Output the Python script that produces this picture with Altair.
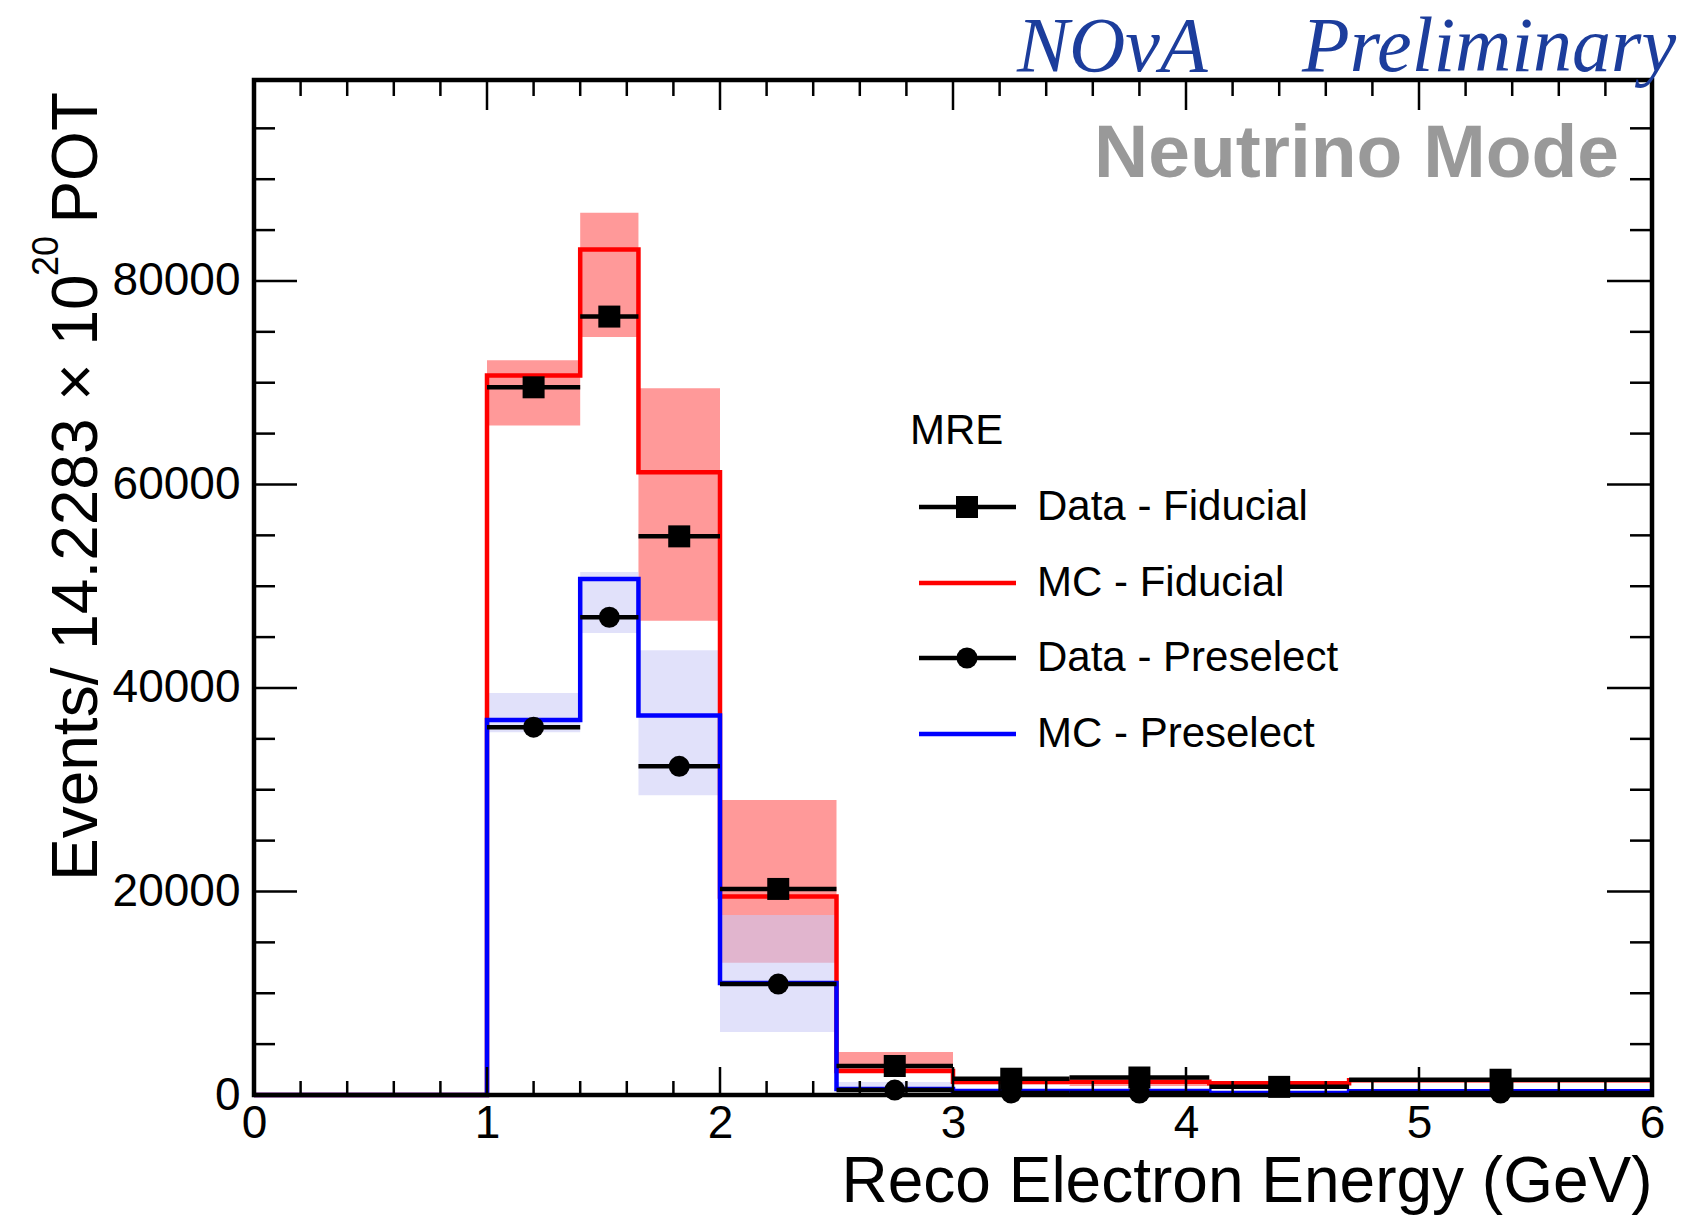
import altair as alt
import pandas as pd

# ---------------- data ----------------
edges = [0.0, 1.0, 1.4, 1.65, 2.0, 2.5, 3.0, 3.5, 4.1, 4.7, 6.0]

mc_fid    = [0, 70700, 83100, 61200, 19500, 2360, 1300, 1300, 1150, 1450]
mc_fid_lo = [0, 65800, 74500, 46600, 13000, 2250, 1000,  880,  950, 1350]
mc_fid_hi = [0, 72200, 86700, 69450, 29000, 4220, 1700, 1470, 1300, 1550]

mc_pre    = [0, 36850, 50700, 37300, 11000,  590,  400,  400,  200,  380]
mc_pre_lo = [0, 35660, 45400, 29450,  6200,  590,  250,  250,  100,  250]
mc_pre_hi = [0, 39500, 51400, 43700, 17700, 1280,  600,  550,  350,  500]

data_fid = [None, 69550, 76500, 54900, 20250, 2850, 1600, 1720,  800, 1500]
data_pre = [None, 36150, 46950, 32300, 10900,  480,  200,  200, None,  200]

x_major = [1, 2, 3, 4, 5]
x_minor = [round(0.2 * i, 1) for i in range(1, 30) if i % 5 != 0]
y_major = [20000, 40000, 60000, 80000]
y_minor = [5000 * i for i in range(1, 20) if i % 4 != 0]
x_labels = [0, 1, 2, 3, 4, 5, 6]
y_labels = [0, 20000, 40000, 60000, 80000]

legend_title = "MRE"
legend_labels = ["Data - Fiducial", "MC - Fiducial", "Data - Preselect", "MC - Preselect"]

# ---------------- tables ----------------
rows = []
for i in range(len(edges) - 1):
    rows.append(dict(lo=edges[i], hi=edges[i + 1], mid=(edges[i] + edges[i + 1]) / 2,
                     fid=mc_fid[i], fid_lo=mc_fid_lo[i], fid_hi=mc_fid_hi[i],
                     pre=mc_pre[i], pre_lo=mc_pre_lo[i], pre_hi=mc_pre_hi[i],
                     dfid=data_fid[i], dpre=data_pre[i]))
bins = pd.DataFrame(rows)
bands = bins[bins["lo"] >= 1.0]
dfid = bins[bins["dfid"].notna()]
dpre = bins[bins["dpre"].notna()]

step_fid = pd.DataFrame({"x": edges, "y": mc_fid + [mc_fid[-1]]})
step_pre = pd.DataFrame({"x": edges, "y": mc_pre + [mc_pre[-1]]})

W, H = 1398, 1015
FONT = "Liberation Sans"

xs = alt.Scale(domain=[0, 6], nice=False, zero=False)
ys = alt.Scale(domain=[0, 99750], nice=False, zero=False)

xaxis = alt.Axis(values=x_labels, format="d", grid=False, ticks=False, tickSize=0, domain=False,
                 labelFont=FONT, labelFontSize=46, labelColor="black", labelPadding=6,
                 labelFlush=False,
                 title="Reco Electron Energy (GeV)", titleFont=FONT, titleFontSize=64,
                 titleFontWeight="normal", titleColor="black", titleAnchor="end",
                 titleAlign="right", titleBaseline="alphabetic", titleX=W, titleY=106)
yaxis = alt.Axis(values=y_labels, format="d", grid=False, ticks=False, tickSize=0, domain=False,
                 labelFont=FONT, labelFontSize=46, labelColor="black", labelPadding=14,
                 labelFlush=False, title=None)


def X(f):
    return alt.X(f, type="quantitative", scale=xs, axis=xaxis)


def Y(f):
    return alt.Y(f, type="quantitative", scale=ys, axis=yaxis)


one = pd.DataFrame({"a": [0]})

layers = []

# systematic bands
layers.append(alt.Chart(bands).mark_rect(color="#ff9999").encode(
    x=X("lo"), x2="hi", y=Y("fid_lo"), y2="fid_hi"))
layers.append(alt.Chart(bands).mark_rect(color="#cacaf6", opacity=0.57).encode(
    x=X("lo"), x2="hi", y=Y("pre_lo"), y2="pre_hi"))

# MC step histograms
layers.append(alt.Chart(step_fid).mark_line(color="#ff0000", strokeWidth=4.5,
                                            interpolate="step-after").encode(x=X("x"), y=Y("y")))
layers.append(alt.Chart(step_pre).mark_line(color="#0000ff", strokeWidth=4.5,
                                            interpolate="step-after").encode(x=X("x"), y=Y("y")))

# data points
layers.append(alt.Chart(dfid).mark_rule(color="black", strokeWidth=4.5).encode(
    x=X("lo"), x2="hi", y=Y("dfid")))
layers.append(alt.Chart(dfid).mark_point(shape="square", filled=True, color="black",
                                         size=484, opacity=1).encode(x=X("mid"), y=Y("dfid")))
layers.append(alt.Chart(dpre).mark_rule(color="black", strokeWidth=4.5).encode(
    x=X("lo"), x2="hi", y=Y("dpre")))
layers.append(alt.Chart(dpre).mark_point(shape="circle", filled=True, color="black",
                                         size=441, opacity=1).encode(x=X("mid"), y=Y("dpre")))

# ticks (inside, on all four sides)
xmaj = pd.DataFrame({"v": x_major})
xmin = pd.DataFrame({"v": x_minor})
ymaj = pd.DataFrame({"v": y_major})
ymin = pd.DataFrame({"v": y_minor})
tk = dict(color="black", strokeWidth=2.5)
layers.append(alt.Chart(xmaj).mark_rule(**tk).encode(x=X("v"), y=alt.value(H), y2=alt.value(H - 28)))
layers.append(alt.Chart(xmin).mark_rule(**tk).encode(x=X("v"), y=alt.value(H), y2=alt.value(H - 14)))
layers.append(alt.Chart(xmaj).mark_rule(**tk).encode(x=X("v"), y=alt.value(0), y2=alt.value(30)))
layers.append(alt.Chart(xmin).mark_rule(**tk).encode(x=X("v"), y=alt.value(0), y2=alt.value(16)))
layers.append(alt.Chart(ymaj).mark_rule(**tk).encode(y=Y("v"), x=alt.value(0), x2=alt.value(43)))
layers.append(alt.Chart(ymin).mark_rule(**tk).encode(y=Y("v"), x=alt.value(0), x2=alt.value(21)))
layers.append(alt.Chart(ymaj).mark_rule(**tk).encode(y=Y("v"), x=alt.value(W), x2=alt.value(W - 45)))
layers.append(alt.Chart(ymin).mark_rule(**tk).encode(y=Y("v"), x=alt.value(W), x2=alt.value(W - 22)))

# frame
layers.append(alt.Chart(one).mark_rect(fillOpacity=0, stroke="black", strokeWidth=4.5).encode(
    x=alt.value(0), x2=alt.value(W), y=alt.value(0), y2=alt.value(H)))


def txt(text, x, y, size, **kw):
    d = pd.DataFrame({"t": [text]})
    return alt.Chart(d).mark_text(fontSize=size, **kw).encode(
        text="t:N", x=alt.value(x), y=alt.value(y))


# y-axis title (with superscript)
layers.append(txt("Events/ 14.2283 \u00d7 10", -157, 801, 64, font=FONT, angle=270, align="left",
                  baseline="alphabetic", color="black"))
layers.append(txt("20", -196, 196, 36, font=FONT, angle=270, align="left",
                  baseline="alphabetic", color="black"))
layers.append(txt("POT", -157, 12, 64, font=FONT, angle=270, align="right",
                  baseline="alphabetic", color="black"))

# top annotations
layers.append(txt("NO\u03bdA", 763, -9, 78, font="Liberation Serif", fontStyle="italic",
                  align="left", baseline="alphabetic", color="#1c3d9c"))
layers.append(txt("Preliminary", 1048, -9, 78, font="Liberation Serif", fontStyle="italic",
                  align="left", baseline="alphabetic", color="#1c3d9c"))
layers.append(txt("Neutrino Mode", 1365, 97, 75, font=FONT, fontWeight="bold",
                  align="right", baseline="alphabetic", color="#999999"))

# legend
layers.append(txt(legend_title, 656, 351, 42, font=FONT, align="left", baseline="middle",
                  color="black"))
leg_y = [427, 503, 578, 654]
leg_col = ["black", "#ff0000", "black", "#0000ff"]
for i, lab in enumerate(legend_labels):
    yy = leg_y[i]
    layers.append(alt.Chart(one).mark_rule(color=leg_col[i], strokeWidth=4.5).encode(
        x=alt.value(665), x2=alt.value(762), y=alt.value(yy)))
    if i == 0:
        layers.append(alt.Chart(one).mark_point(shape="square", filled=True, color="black",
                                                size=484, opacity=1).encode(
            x=alt.value(713), y=alt.value(yy)))
    if i == 2:
        layers.append(alt.Chart(one).mark_point(shape="circle", filled=True, color="black",
                                                size=441, opacity=1).encode(
            x=alt.value(713), y=alt.value(yy)))
    layers.append(txt(lab, 783, yy, 42, font=FONT, align="left", baseline="middle",
                      color="black"))

chart = alt.layer(*layers).properties(
    width=W, height=H,
    padding={"left": 254, "top": 80, "right": 1706 - 254 - W, "bottom": 1221 - 80 - H},
    autosize=alt.AutoSizeParams(type="none"),
    background="white",
).configure_view(stroke=None)

chart.save("out.html", embed_options={"renderer": "svg", "actions": False})
